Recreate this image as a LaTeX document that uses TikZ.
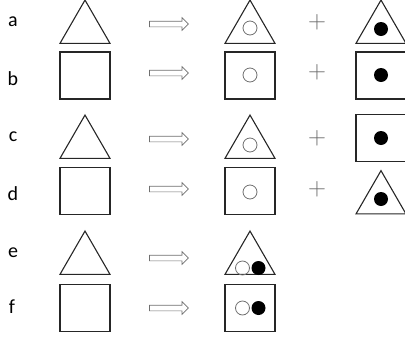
\documentclass[tikz,border=0pt]{standalone}
\usepackage{fontspec}
\setmainfont{Carlito}
\usepackage{tikz}
\usetikzlibrary{shapes.geometric, shapes.arrows, positioning}
\definecolor{ink}{HTML}{262626}
\definecolor{shade}{HTML}{6F6F6F}
\definecolor{soft}{HTML}{6A6A6A}

\begin{document}
\begin{tikzpicture}[x=1pt, y=-1pt,
  tri/.style={regular polygon, regular polygon sides=3, draw=ink, line width=1.1pt,
    minimum size=57.7pt, inner sep=0pt},
  sq/.style={rectangle, draw=ink, line width=1.1pt, minimum width=50pt, minimum height=47pt},
  hole/.style={circle, draw=shade, line width=0.8pt, minimum size=14pt, inner sep=0pt},
  dot/.style={circle, fill=black, minimum size=14pt, inner sep=0pt},
  arr/.style={single arrow, draw=shade, line width=0.7pt, minimum height=39pt, minimum width=0pt,
    inner xsep=0pt, inner ysep=2.5pt, single arrow head extend=3.5pt, single arrow head indent=0pt},
  plus/.style={text=soft, font=\fontsize{27}{27}\selectfont, inner sep=0pt},
  lbl/.style={font=\fontsize{20}{20}\selectfont, text=black, inner sep=0pt}]

  \useasboundingbox (0,0) rectangle (405,338);

  % row labels
  \node[lbl] (la) at (13,22) {a};
  \node[lbl] (lb) at (13,79) {b};
  \node[lbl] (lc) at (13,137) {c};
  \node[lbl] (ld) at (13,194) {d};
  \node[lbl] (le) at (13,253) {e};
  \node[lbl] (lf) at (12,307) {f};

  % left column
  \node[tri] (ta) at (85,28.9) {};
  \node[sq]  (sb) at (85,75.5) {};
  \node[tri] (tc) at (85,143.9) {};
  \node[sq]  (sd) at (85,191) {};
  \node[tri] (te) at (85,259.9) {};
  \node[sq]  (sf) at (85,308) {};

  % arrows
  \node[arr] (aa) at (167.5,24) {};
  \node[arr] (ab) at (167.5,73) {};
  \node[arr] (ac) at (167.5,139) {};
  \node[arr] (ad) at (167.5,189) {};
  \node[arr] (ae) at (167.5,258) {};
  \node[arr] (af) at (167.5,308) {};

  % middle column
  \node[tri] (ma) at (250,28.9) {};
  \node[sq]  (mb) at (250,75.5) {};
  \node[tri] (mc) at (250,143.9) {};
  \node[sq]  (md) at (250,191) {};
  \node[tri] (me) at (250,259.9) {};
  \node[sq]  (mf) at (250,308) {};
  \node[hole] (ha) at (250,28) {};
  \node[hole] (hb) at (250,75) {};
  \node[hole] (hc) at (250,145) {};
  \node[hole] (hd) at (250,192) {};
  \node[hole] (he) at (242.5,268) {};
  \node[dot]  (de) at (258.5,268) {};
  \node[hole] (hf) at (242.5,308) {};
  \node[dot]  (df) at (258.5,308) {};

  % plus signs
  \node[plus] (pa) at (317,22) {$+$};
  \node[plus] (pb) at (317,72) {$+$};
  \node[plus] (pc) at (317,138) {$+$};
  \node[plus] (pd) at (317,189) {$+$};

  % right column
  \node[tri] (ra) at (381,28.9) {};
  \node[sq]  (rb) at (381,75.5) {};
  \node[sq]  (rc) at (381,138) {};
  \node[tri] (rd) at (381,199.5) {};
  \node[dot] (da) at (381,29) {};
  \node[dot] (db) at (381,75) {};
  \node[dot] (dc) at (381,138) {};
  \node[dot] (dd) at (381,199) {};
\end{tikzpicture}
\end{document}
